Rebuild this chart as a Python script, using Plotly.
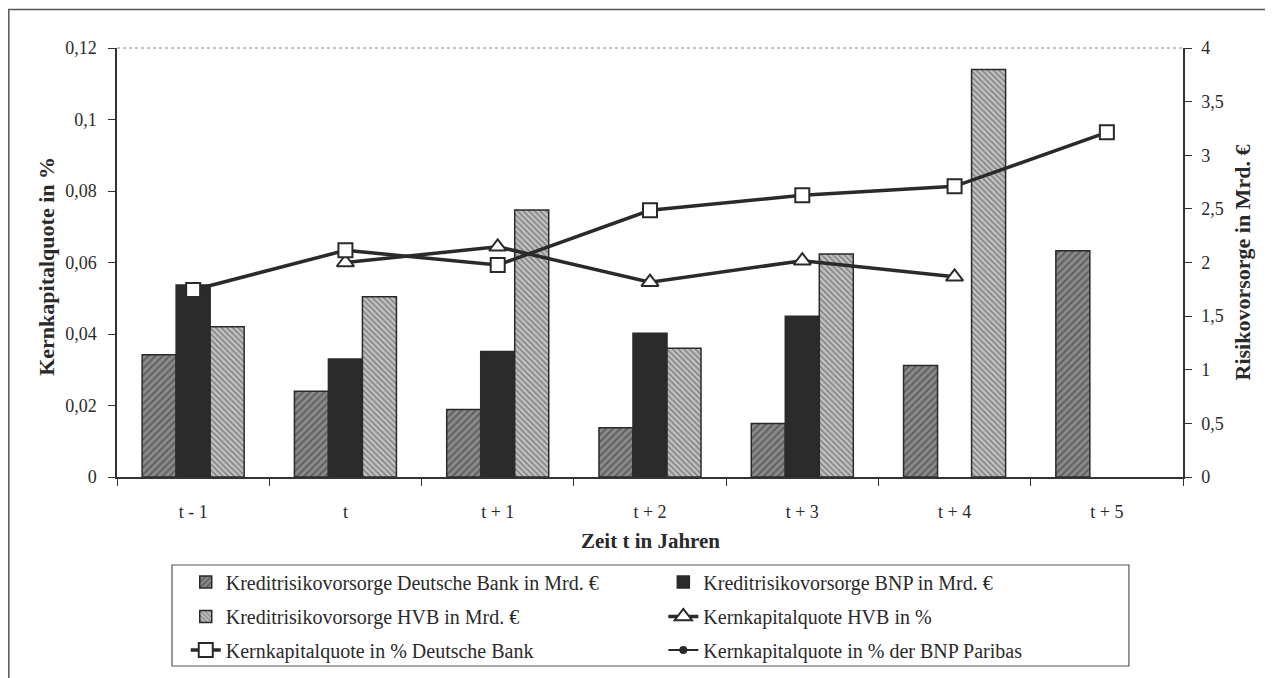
import plotly.graph_objects as go

categories = ["t - 1", "t", "t + 1", "t + 2", "t + 3", "t + 4", "t + 5"]

# Kreditrisikovorsorge (Mrd. €) - right axis
db_risk = [1.14, 0.80, 0.63, 0.46, 0.50, 1.04, 2.11]
bnp_risk = [1.79, 1.10, 1.17, 1.34, 1.50, None, None]
hvb_risk = [1.40, 1.68, 2.49, 1.20, 2.08, 3.80, None]

# Kernkapitalquote (left axis)
hvb_quote = [None, 0.0600, 0.0644, 0.0545, 0.0605, 0.0560, None]
db_quote = [0.0523, 0.0634, 0.0593, 0.0746, 0.0788, 0.0813, 0.0964]
bnp_quote = [None, None, None, None, None, None, None]

names = [
    "Kreditrisikovorsorge Deutsche Bank in Mrd. €",
    "Kreditrisikovorsorge BNP in Mrd. €",
    "Kreditrisikovorsorge HVB in Mrd. €",
    "Kernkapitalquote HVB in %",
    "Kernkapitalquote in % Deutsche Bank",
    "Kernkapitalquote in % der BNP Paribas",
]

FONT = "'Liberation Serif', 'Times New Roman', Times, serif"
INK = "#2a2a2a"

fig = go.Figure()

fig.add_trace(go.Bar(
    x=categories, y=db_risk, name=names[0], legend="legend",
    marker=dict(color="#8a8a8a", line=dict(color=INK, width=1.5),
                pattern=dict(shape="/", fgcolor="#333333", bgcolor="#8a8a8a", size=5, solidity=0.4)),
))
fig.add_trace(go.Bar(
    x=categories, y=bnp_risk, name=names[1], legend="legend2",
    marker=dict(color="#2b2b2b", line=dict(color=INK, width=1.5)),
))
fig.add_trace(go.Bar(
    x=categories, y=hvb_risk, name=names[2], legend="legend3",
    marker=dict(color="#b0b0b0", line=dict(color=INK, width=1.5),
                pattern=dict(shape="\\", fgcolor="#444444", bgcolor="#c4c4c4", size=4, solidity=0.45)),
))
fig.add_trace(go.Scatter(
    x=categories, y=hvb_quote, name=names[3], yaxis="y2", legend="legend4",
    mode="lines+markers",
    line=dict(color=INK, width=3.5),
    marker=dict(symbol="triangle-up", size=15, color="white", line=dict(color=INK, width=2)),
))
fig.add_trace(go.Scatter(
    x=categories, y=db_quote, name=names[4], yaxis="y2", legend="legend5",
    mode="lines+markers",
    line=dict(color=INK, width=3.5),
    marker=dict(symbol="square", size=14, color="white", line=dict(color=INK, width=2)),
))
fig.add_trace(go.Scatter(
    x=categories, y=bnp_quote, name=names[5], yaxis="y2", legend="legend6",
    mode="lines+markers",
    line=dict(color=INK, width=2),
    marker=dict(symbol="circle", size=8, color=INK),
))

axis_font = dict(family=FONT, size=18, color=INK)

leg_common = dict(font=dict(family=FONT, size=20, color=INK), bgcolor="rgba(0,0,0,0)",
                  xanchor="left", yanchor="middle", borderwidth=0, visible=True)
col1, col2 = 0.0645, 0.5125
row1, row2, row3 = -0.245, -0.325, -0.403

fig.update_layout(
    width=1273, height=678,
    margin=dict(l=109, r=98, t=40, b=209, autoexpand=False),
    paper_bgcolor="white", plot_bgcolor="white",
    separators=",.",
    showlegend=True,
    font=dict(family=FONT, color=INK),
    barmode="group", bargap=0.33, bargroupgap=0,
    xaxis=dict(type="category", showline=True, linecolor="#333", linewidth=1.5,
               ticks="outside", tickson="boundaries", ticklen=7, tickcolor="#333",
               tickfont=axis_font, ticklabelstandoff=18, showgrid=False),
    yaxis=dict(range=[0, 4], dtick=0.5, tick0=0, side="right", showgrid=False, zeroline=False,
               showline=True, linecolor="#333", linewidth=1.5, ticks="outside", ticklen=7,
               tickcolor="#333", tickfont=axis_font, ticklabelstandoff=6),
    yaxis2=dict(range=[0, 0.12], dtick=0.02, tick0=0, side="left", overlaying="y",
                showgrid=False, zeroline=False, showline=True, linecolor="#333", linewidth=1.5,
                ticks="outside", ticklen=7, tickcolor="#333", tickfont=axis_font, ticklabelstandoff=8),
    legend=dict(x=col1, y=row1, **leg_common),
    legend2=dict(x=col2, y=row1, **leg_common),
    legend3=dict(x=col1, y=row2, **leg_common),
    legend4=dict(x=col2, y=row2, **leg_common),
    legend5=dict(x=col1, y=row3, **leg_common),
    legend6=dict(x=col2, y=row3, **leg_common),
    shapes=[
        # outer frame
        dict(type="rect", xref="paper", yref="paper", x0=-0.1015, x1=1.2, y0=-0.6, y1=1.0895,
             line=dict(color="#555", width=1.5), fillcolor="rgba(0,0,0,0)", layer="below"),
        # top border of plot area (dotted)
        dict(type="line", xref="paper", yref="paper", x0=0, x1=1, y0=1, y1=1,
             line=dict(color="#888", width=1, dash="dot")),
        # legend box
        dict(type="rect", xref="paper", yref="paper", x0=0.0516, x1=0.9493, y0=-0.4406, y1=-0.2051,
             line=dict(color="#555", width=1.2), fillcolor="rgba(0,0,0,0)"),
    ],
    annotations=[
        dict(text="<b>Kernkapitalquote in %</b>", xref="paper", yref="paper",
             x=(47 - 117) / 1066, y=0.49, textangle=-90, showarrow=False,
             font=dict(family=FONT, size=22, color=INK), xanchor="center", yanchor="middle"),
        dict(text="<b>Risikovorsorge in Mrd. €</b>", xref="paper", yref="paper",
             x=(1242 - 117) / 1066, y=0.50, textangle=-90, showarrow=False,
             font=dict(family=FONT, size=22, color=INK), xanchor="center", yanchor="middle"),
        dict(text="<b>Zeit t in Jahren</b>", xref="paper", yref="paper",
             x=(650 - 117) / 1066, y=(477 - 541) / 429, showarrow=False,
             font=dict(family=FONT, size=21, color=INK), xanchor="center", yanchor="middle"),
    ],
)

fig.write_html("out.html")
